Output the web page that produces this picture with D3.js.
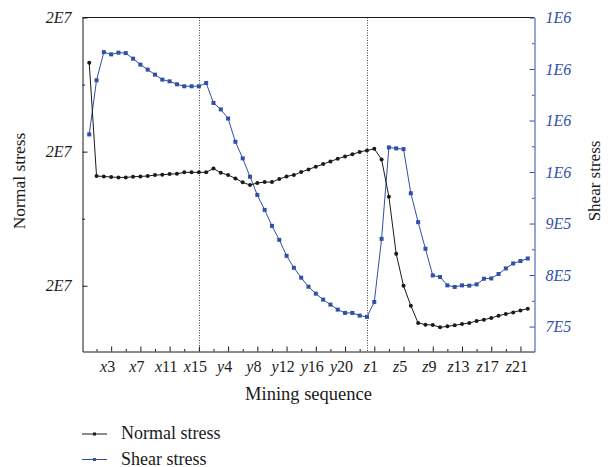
<!DOCTYPE html>
<html>
<head>
<meta charset="utf-8">
<script src="https://cdn.jsdelivr.net/npm/d3@7"></script>
<style>
  body { margin: 0; background: #fff; }
  svg { display: block; }
  text { font-family: "Liberation Serif", "Times New Roman", serif; }
</style>
</head>
<body>
<svg id="chart" width="610" height="467"></svg>
<script>
// mining steps: x0..x15, y1..y23, z1..z22
var sequence = ['x0', 'x1', 'x2', 'x3', 'x4', 'x5', 'x6', 'x7', 'x8', 'x9', 'x10', 'x11', 'x12', 'x13', 'x14', 'x15',
  'y1', 'y2', 'y3', 'y4', 'y5', 'y6', 'y7', 'y8', 'y9', 'y10', 'y11', 'y12', 'y13', 'y14', 'y15', 'y16', 'y17', 'y18', 'y19', 'y20', 'y21', 'y22', 'y23',
  'z1', 'z2', 'z3', 'z4', 'z5', 'z6', 'z7', 'z8', 'z9', 'z10', 'z11', 'z12', 'z13', 'z14', 'z15', 'z16', 'z17', 'z18', 'z19', 'z20', 'z21', 'z22'];

var normalStress = [21326000, 19636000, 19631000, 19621000, 19616000, 19616000, 19625000, 19631000, 19636000, 19651000,
  19655000, 19665000, 19670000, 19691000, 19691000, 19691000, 19692000, 19750000, 19685000, 19651000,
  19601000, 19542000, 19502000, 19532000, 19546000, 19546000, 19591000, 19631000, 19651000, 19695000,
  19735000, 19774000, 19814000, 19854000, 19893000, 19929000, 19960000, 19996000, 20018000, 20042000,
  19884000, 19328000, 18476000, 18000000, 17703000, 17445000, 17420000, 17416000, 17380000, 17395000,
  17410000, 17430000, 17445000, 17475000, 17494000, 17520000, 17554000, 17579000, 17603000, 17633000, 17658000];

var shearStress = [1073000, 1178100, 1232800, 1228400, 1231700, 1230900, 1220100, 1208500, 1198800, 1189100,
  1179400, 1176100, 1170300, 1166500, 1166500, 1166500, 1172800, 1134100, 1121600, 1103900,
  1058700, 1026500, 990900, 955500, 926500, 895500, 868400, 837400, 814200, 794900,
  777400, 763900, 752300, 742600, 732900, 726500, 726500, 721300, 718800, 747800,
  870300, 1047800, 1045900, 1044500, 958800, 902700, 851000, 799300, 796200, 780000,
  776900, 780000, 779400, 781900, 792900, 793500, 802000, 812900, 822500, 827200, 832200];

var xTickLabels = ['x3', 'x7', 'x11', 'x15', 'y4', 'y8', 'y12', 'y16', 'y20', 'z1', 'z5', 'z9', 'z13', 'z17', 'z21'];
var xMinorTicks = ['x1', 'x5', 'x9', 'x13', 'y2', 'y6', 'y10', 'y14', 'y18', 'y22', 'z3', 'z7', 'z11', 'z15', 'z19'];
var stageEnds = ['x15', 'y23'];

var normalTicks = [22000000, 20000000, 18000000];
var normalMinorTicks = [21000000, 19000000];
var shearTicks = [1300000, 1200000, 1100000, 1000000, 900000, 800000, 700000];
var shearMinorTicks = [1250000, 1150000, 1050000, 950000, 850000, 750000];

var seriesNames = ['Normal stress', 'Shear stress'];

var BLUE = '#3050a8',
    BLACK = '#1a1a1a';

var svg = d3.select('#chart'),
    plotLeft = 82.5,
    plotRight = 534.5,
    plotTop = 17.5,
    plotBottom = 351.5;

var x = d3.scalePoint().domain(sequence).range([plotLeft, plotRight]).padding(0.92);
var yNormal = d3.scaleLinear().domain([17020000, 22000000]).range([plotBottom, plotTop]);
var yShear = d3.scaleLinear().domain([651600, 1300000]).range([plotBottom, plotTop]);

// 2E7 style label, one significant digit
function sciLabel(d) {
  var e = Math.floor(Math.log10(d)),
      m = Math.round(d / Math.pow(10, e));
  if (m === 10) { m = 1; e += 1; }
  return m + 'E' + e;
}

// stage lines
svg.append('g').selectAll('line').data(stageEnds).enter().append('line')
  .attr('x1', function (d) { return Math.round(x(d)) + 0.5; })
  .attr('x2', function (d) { return Math.round(x(d)) + 0.5; })
  .attr('y1', plotTop).attr('y2', plotBottom)
  .attr('stroke', '#444').attr('stroke-width', 1).attr('stroke-dasharray', '1,1.5');

// frame top
svg.append('line').attr('x1', plotLeft).attr('x2', plotRight).attr('y1', plotTop).attr('y2', plotTop)
  .attr('stroke', BLACK).attr('stroke-width', 1);

// bottom axis
var gx = svg.append('g').attr('transform', 'translate(0,' + plotBottom + ')');
gx.call(d3.axisBottom(x).tickValues(xMinorTicks).tickSize(-2.5).tickSizeOuter(0).tickFormat(''));
var gxMajor = svg.append('g').attr('transform', 'translate(0,' + plotBottom + ')')
  .call(d3.axisBottom(x).tickValues(xTickLabels).tickSize(-5).tickSizeOuter(0).tickPadding(9));
gxMajor.select('.domain').remove();
gxMajor.selectAll('text').attr('dx', -4).style('font-size', '16px').attr('fill', BLACK)
  .each(function (d) {
    var t = d3.select(this).text(null);
    t.append('tspan').style('font-style', 'italic').text(d.charAt(0));
    t.append('tspan').text(d.slice(1));
  });
gx.selectAll('line, path').attr('stroke', BLACK);
gxMajor.selectAll('line').attr('stroke', BLACK);

// left axis
var gl = svg.append('g').attr('transform', 'translate(' + plotLeft + ',0)');
gl.call(d3.axisLeft(yNormal).tickValues(normalMinorTicks).tickSize(-2.5).tickSizeOuter(0).tickFormat(''));
var glMajor = svg.append('g').attr('transform', 'translate(' + plotLeft + ',0)')
  .call(d3.axisLeft(yNormal).tickValues(normalTicks).tickSize(-5).tickSizeOuter(0).tickPadding(11).tickFormat(sciLabel));
glMajor.select('.domain').remove();
glMajor.selectAll('text').style('font-size', '16px').style('font-style', 'italic').attr('fill', BLACK);
gl.selectAll('line, path').attr('stroke', BLACK);
glMajor.selectAll('line').attr('stroke', BLACK);

// right axis
var gr = svg.append('g').attr('transform', 'translate(' + plotRight + ',0)');
gr.call(d3.axisRight(yShear).tickValues(shearMinorTicks).tickSize(-2.5).tickSizeOuter(0).tickFormat(''));
var grMajor = svg.append('g').attr('transform', 'translate(' + plotRight + ',0)')
  .call(d3.axisRight(yShear).tickValues(shearTicks).tickSize(-5).tickSizeOuter(0).tickPadding(11).tickFormat(sciLabel));
grMajor.select('.domain').remove();
grMajor.selectAll('text').style('font-size', '16px').style('font-style', 'italic').attr('fill', BLUE);
gr.selectAll('line, path').attr('stroke', BLUE);
grMajor.selectAll('line').attr('stroke', BLUE);

// series
var idx = d3.range(sequence.length);

svg.append('path').datum(idx)
  .attr('fill', 'none').attr('stroke', BLUE).attr('stroke-width', 1)
  .attr('d', d3.line().x(function (i) { return x(sequence[i]); }).y(function (i) { return yShear(shearStress[i]); }));
svg.append('g').selectAll('rect').data(idx).enter().append('rect')
  .attr('x', function (i) { return x(sequence[i]) - 2; })
  .attr('y', function (i) { return yShear(shearStress[i]) - 2; })
  .attr('width', 4).attr('height', 4).attr('fill', BLUE);

svg.append('path').datum(idx)
  .attr('fill', 'none').attr('stroke', BLACK).attr('stroke-width', 1)
  .attr('d', d3.line().x(function (i) { return x(sequence[i]); }).y(function (i) { return yNormal(normalStress[i]); }));
svg.append('g').selectAll('circle').data(idx).enter().append('circle')
  .attr('cx', function (i) { return x(sequence[i]); })
  .attr('cy', function (i) { return yNormal(normalStress[i]); })
  .attr('r', 2).attr('fill', BLACK);

// axis titles
svg.append('text').attr('transform', 'translate(25,181) rotate(-90)')
  .attr('text-anchor', 'middle').style('font-size', '17.5px').attr('fill', BLACK).text('Normal stress');
svg.append('text').attr('transform', 'translate(600,181) rotate(-90)')
  .attr('text-anchor', 'middle').style('font-size', '17px').attr('fill', BLACK).text('Shear stress');
svg.append('text').attr('x', (plotLeft + plotRight) / 2).attr('y', 400)
  .attr('text-anchor', 'middle').style('font-size', '18.5px').attr('fill', BLACK).text('Mining sequence');

// legend
var legend = svg.append('g').selectAll('g').data(seriesNames).enter().append('g')
  .attr('transform', function (d, i) { return 'translate(82,' + (433.5 + i * 25.5) + ')'; });
legend.append('line').attr('x1', 0).attr('x2', 25).attr('y1', 0.5).attr('y2', 0.5)
  .attr('stroke', function (d, i) { return i ? BLUE : BLACK; }).attr('stroke-width', 1);
legend.append('rect').attr('x', 11).attr('y', -1).attr('width', 3).attr('height', 3)
  .attr('fill', function (d, i) { return i ? BLUE : BLACK; });
legend.append('text').attr('x', 39).attr('y', 5.5).style('font-size', '18px').attr('fill', BLACK)
  .text(function (d) { return d; });
</script>
</body>
</html>
